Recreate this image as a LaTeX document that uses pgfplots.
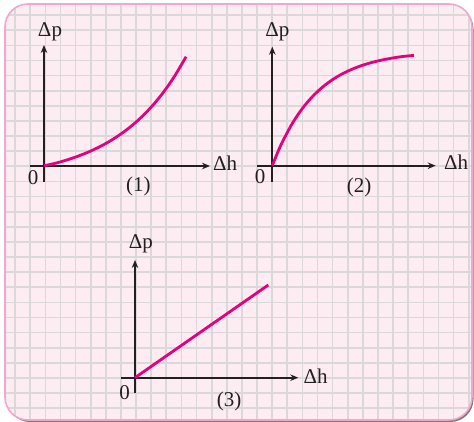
\documentclass[border=0pt]{standalone}
\usepackage{pgfplots}
\pgfplotsset{compat=1.18}
\usetikzlibrary{arrows.meta}
\usepackage{fontspec}
\setmainfont{Liberation Serif}
\definecolor{panelfill}{RGB}{253,237,243}
\definecolor{panelborder}{RGB}{242,165,205}
\definecolor{gridc}{RGB}{218,216,217}
\definecolor{curvec}{RGB}{230,0,126}
\definecolor{axisc}{RGB}{35,31,32}
\newcommand{\lbl}{\fontsize{21}{24}\selectfont}
\tikzset{lab/.style={font=\lbl, text=axisc, inner sep=0pt}}
\pgfplotsset{mini/.style={
  axis lines=middle, x=1pt, y=1pt, scale only axis, enlargelimits=false,
  xtick=\empty, ytick=\empty, clip=false,
  axis line style={axisc, line width=1.8pt},
  x axis line style={-{Stealth[length=8pt,width=6.5pt]}},
  y axis line style={-{Stealth[length=8pt,width=6.5pt]}},
  anchor=south west,
}}
\begin{document}
\begin{tikzpicture}[x=1pt,y=1pt]
\useasboundingbox (0,0) rectangle (474,422);
% shadow
\fill[gray!70!black, opacity=0.8, rounded corners=23pt] (7,0) rectangle (473.5,416);
\fill[panelfill, rounded corners=23pt] (5,2) rectangle (472,418);
\begin{scope}
\clip[rounded corners=23pt] (5,2) rectangle (472,418);
\foreach \k in {1,...,31} {
  \draw[gridc, line width=1.7pt] (\k*15.12,0) -- (\k*15.12,422);
  \draw[gridc, line width=1.7pt] (0,422-\k*15.12) -- (474,422-\k*15.12);
}
\end{scope}
\draw[panelborder, line width=1.6pt, rounded corners=23pt] (5,2) rectangle (472,418);

% plot 1
\begin{axis}[mini, at={(30,240)}, xmin=-14, xmax=166, ymin=-16, ymax=121]
\addplot[curvec, line width=2.8pt, smooth] coordinates {(0,0.3)(10,2.39)(20,5.16)(30,8.38)(40,12.13)(50,16.48)(60,21.53)(70,27.40)(80,34.22)(90,42.15)(100,51.35)(110,62.05)(120,74.48)(130,88.92)(140,105.70)(142,109.3)};
\node[lab, anchor=base] at (axis cs:6,129) {Δp};
\node[lab, anchor=base west] at (axis cs:169,-5) {Δh};
\node[lab, anchor=base] at (axis cs:-11,-18.3) {0};
\node[lab, anchor=base] at (axis cs:94.3,-25.7) {(1)};
\end{axis}

% plot 2
\begin{axis}[mini, at={(257.3,240.3)}, xmin=-15, xmax=163.4, ymin=-16, ymax=119]
\addplot[curvec, line width=2.8pt, smooth] coordinates {(0,0)(5,12.44)(10,23.54)(20,42.26)(30,57.14)(40,68.99)(50,78.41)(60,85.90)(70,91.85)(80,96.59)(90,100.36)(100,103.35)(110,105.73)(120,107.63)(130,109.14)(141.7,110.3)};
\node[lab, anchor=base] at (axis cs:5,129) {Δp};
\node[lab, anchor=base west] at (axis cs:171.7,-4.3) {Δh};
\node[lab, anchor=base] at (axis cs:-12.3,-17.6) {0};
\node[lab, anchor=base] at (axis cs:86.7,-27) {(2)};
\end{axis}

% plot 3
\begin{axis}[mini, at={(120.7,28.7)}, xmin=-14.3, xmax=163.3, ymin=-15.6, ymax=117.7]
\addplot[curvec, line width=2.8pt] coordinates {(0,0)(133.3,92.7)};
\node[lab, anchor=base] at (axis cs:5.8,129.4) {Δp};
\node[lab, anchor=base west] at (axis cs:168.3,-5.6) {Δh};
\node[lab, anchor=base] at (axis cs:-10.5,-21.6) {0};
\node[lab, anchor=base] at (axis cs:94,-29) {(3)};
\end{axis}
\end{tikzpicture}
\end{document}
